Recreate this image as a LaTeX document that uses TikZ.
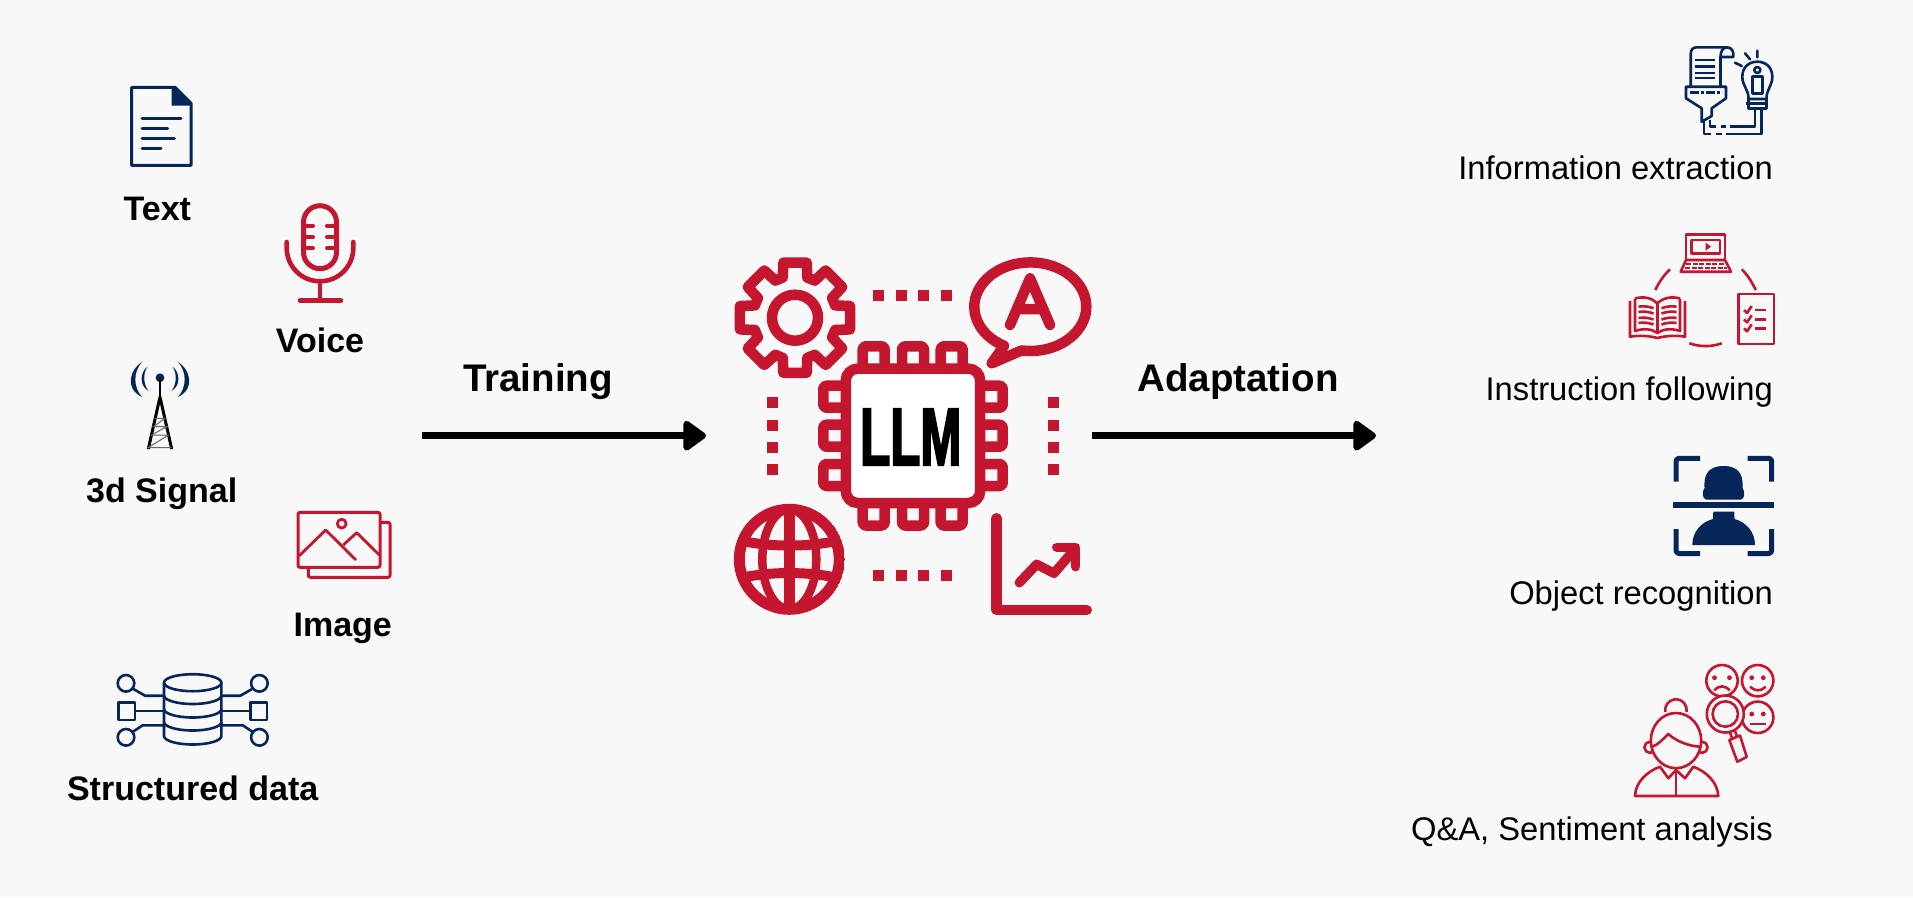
\documentclass[tikz,border=0pt]{standalone}
\usepackage{fontspec}
\setmainfont{Liberation Sans}
\newfontfamily\llmfont{Liberation Sans}[FakeStretch=0.6,FakeBold=2]
\usetikzlibrary{
  arrows.meta
}
\definecolor{pagebg}{HTML}{F8F8F8}
\definecolor{llmred}{HTML}{C4162E}
\definecolor{llmnavy}{HTML}{06265A}
\tikzset{
  inlabel/.style={anchor=base, inner sep=0pt, font=\fontsize{34}{40}\selectfont\bfseries},
  outlabel/.style={anchor=base east, inner sep=0pt, font=\fontsize{32.7}{40}\selectfont},
  stagelabel/.style={anchor=base, inner sep=0pt, font=\fontsize{38.5}{44}\selectfont\bfseries},
  stagearrow/.style={line width=7pt, -{Triangle[length=25pt,width=34pt,round]}},
  navyline/.style={draw=llmnavy, line width=2.6pt, line join=round},
  redline/.style={draw=llmred, line width=2.6pt, line join=round},
  redthick/.style={draw=llmred, line width=10.5pt, line join=round, line cap=round},
  redspot/.style={fill=llmred, minimum size=11pt, inner sep=0pt}
}
\begin{document}
\begin{tikzpicture}[x=1pt, y=1pt, yscale=-1]
  \fill[pagebg] (0,0) rectangle (1913,897);
  \useasboundingbox (0,0) rectangle (1913,897);

  % inputs
  \node[inlabel] (text) at (157.3,220) {Text};
  \node[inlabel] (voice) at (320,352.7) {Voice};
  \node[inlabel] (signal) at (161.7,502.7) {3d Signal};
  \node[inlabel] (image) at (342.7,636) {Image};
  \node[inlabel] (data) at (192.7,800) {Structured data};

  % text
  \draw[navyline, line width=3pt] (131.7,87.3) -- (175,87.3) -- (191,103.3) -- (191,165.3) -- (131.7,165.3) -- cycle;
  \fill[llmnavy] (171.7,87.3) -- (175,87.3) -- (191,103.3) -- (191,105.5) -- (171.7,105.5) -- cycle;
  \foreach \y/\e in {118.3/181, 128/167.7, 138/174.3, 148/161}
    \draw[navyline, line width=3pt, line cap=round] (142,\y) -- (\e,\y);

  % voice
  \draw[draw=llmred, line width=5pt, rounded corners=16.5pt] (303.5,205.7) rectangle (336.5,268.7);
  \foreach \y in {225.7,237,248.3} {
    \draw[draw=llmred, line width=4pt, line cap=round] (303.5,\y) -- (313,\y);
    \draw[draw=llmred, line width=4pt, line cap=round] (327,\y) -- (336.5,\y);
  }
  \draw[draw=llmred, line width=4.6pt, line cap=round] (286.7,242) -- (286.7,248) arc[start angle=180, end angle=0, radius=33.3] -- (353.3,242);
  \draw[draw=llmred, line width=4.6pt, line cap=round] (320,281.3) -- (320,300.7) (300,300.7) -- (341,300.7);

  % signal
  \foreach \m/\d in {1/0,-1/320} {
    \begin{scope}[xshift=\d pt, xscale=\m]
      \fill[llmnavy] (142.3,361.7) .. controls (130,369) and (124,389) .. (142.3,397) .. controls (133,388) and (133,371) .. cycle;
      \fill[llmnavy] (147.5,366.7) .. controls (141,371) and (138,385) .. (148.5,391) .. controls (143,384) and (143,373) .. cycle;
    \end{scope}
  }
  \fill[llmnavy] (160,377.7) circle (4.4);
  \draw[black, line width=1.6pt] (160,378) -- (160,397);
  \draw[black, line width=3pt, line join=round] (148.3,449) -- (160,397) -- (171.7,449);
  \draw[black!60, line width=1pt] (155.1,418.3) -- (164.9,418.3) -- (153.4,426.7) -- (166.6,426.7) -- (151.5,435) -- (168.5,435) -- (148.3,447.5) -- (171.7,447.5);

  % image
  \draw[redline, line width=3pt, rounded corners=2pt] (298,512.3) rectangle (380,567.3);
  \draw[redline, line width=3pt, rounded corners=2pt] (380,522.3) -- (390,522.3) -- (390,577.3) -- (308.3,577.3) -- (308.3,567.3);
  \draw[redline, line width=2.8pt] (341.7,523.7) circle (4.4);
  \draw[redline, line width=2.8pt] (299.3,555.7) -- (325.7,530) -- (356,560);
  \draw[redline, line width=2.8pt] (343.3,545) -- (356.7,532.7) -- (379.3,555);

  % structured data
  \draw[navyline] (192.7,682.7) ellipse (28.7 and 8.5);
  \draw[navyline] (164,682.7) -- (164,736) arc[start angle=180, end angle=0, x radius=28.7, y radius=8.5] -- (221.4,682.7);
  \foreach \y in {695.5,709,722}
    \draw[navyline] (164,\y) arc[start angle=180, end angle=0, x radius=28.7, y radius=8.5];
  \foreach \m/\d in {1/0,-1/385.4} {
    \begin{scope}[xshift=\d pt, xscale=\m]
      \draw[navyline] (126,683.3) circle (8.3);
      \draw[navyline] (118.3,702.3) rectangle (135,720);
      \draw[navyline] (126,737.3) circle (8.3);
      \draw[navyline] (132.5,688.5) -- (145,695.7) -- (164,695.7);
      \draw[navyline] (135,711) -- (164,711);
      \draw[navyline] (132.5,732) -- (142.7,725.3) -- (164,725.3);
    \end{scope}
  }

  % stages
  \node[stagelabel] (training) at (538,391.7) {Training};
  \node[stagelabel] (adaptation) at (1238,391.7) {Adaptation};
  \coordinate (trainfrom) at (422.3,435.7);
  \coordinate (trainto) at (706,435.7);
  \coordinate (adaptfrom) at (1092.3,435.7);
  \coordinate (adaptto) at (1376,435.7);
  \draw[stagearrow] (trainfrom) -- (trainto);
  \draw[stagearrow] (adaptfrom) -- (adaptto);

  % gear
  \begin{scope}[shift={(795,317.7)}]
    \draw[redthick] (-12:56.3) foreach \a in {0,45,...,315} { -- (\a-12:56.3) -- (\a+12:56.3) -- (\a+17:42) -- (\a+28:42) } -- cycle;
    \draw[redthick] (0,0) circle (23);
  \end{scope}

  % dots
  \foreach \x [count=\i] in {878.7,901.3,923.8,946.2} {
    \node[redspot] (dottop\i) at (\x,295.7) {};
    \node[redspot] (dotbot\i) at (\x,575.7) {};
  }
  \foreach \y [count=\i] in {402.3,425,447.3,469.3} {
    \node[redspot] (dotleft\i) at (772.7,\y) {};
    \node[redspot] (dotright\i) at (1053,\y) {};
  }

  % chip
  \foreach \p in {873.7,913,951.7} {
    \draw[redthick, line cap=butt, rounded corners=3pt] (\p-11,370) -- (\p-11,346.3) -- (\p+11,346.3) -- (\p+11,370);
    \draw[redthick, line cap=butt, rounded corners=3pt] (\p-11,501) -- (\p-11,525.5) -- (\p+11,525.5) -- (\p+11,501);
  }
  \foreach \p in {396.7,435.7,475} {
    \draw[redthick, line cap=butt, rounded corners=3pt] (847,\p-11) -- (823.3,\p-11) -- (823.3,\p+11) -- (847,\p+11);
    \draw[redthick, line cap=butt, rounded corners=3pt] (979,\p-11) -- (1002.7,\p-11) -- (1002.7,\p+11) -- (979,\p+11);
  }
  \node[draw=llmred, line width=10.5pt, fill=white, rounded corners=12pt, minimum size=134.4pt, inner sep=0pt] (chip) at (913,435.8) {};
  \node[font=\fontsize{82}{86}\selectfont\llmfont\bfseries, inner sep=0pt] (llm) at (910.8,437) {LLM};

  % speech bubble
  \begin{scope}[shift={(1030.3,306.7)}]
    \draw[redthick] (118:56 and 44.3) arc[start angle=118, end angle=459, x radius=56, y radius=44.3] -- (-38.6,56.6) -- cycle;
  \end{scope}
  \draw[redthick] (1010,325) -- (1030,278.3) -- (1050,325) (1017,309) -- (1043,309);

  % globe
  \begin{scope}[shift={(789.3,559.3)}]
    \clip (0,0) circle (55.5);
    \draw[draw=llmred, line width=11pt] (0,0) circle (50);
    \draw[draw=llmred, line width=8.5pt] (0,0) ellipse (27 and 50);
    \draw[draw=llmred, line width=11pt] (0,-50) -- (0,50);
    \draw[draw=llmred, line width=10pt] (-50,-19) .. controls (-20,-12) and (20,-12) .. (50,-19);
    \draw[draw=llmred, line width=10pt] (-50,19) .. controls (-20,12) and (20,12) .. (50,19);
  \end{scope}

  % chart
  \draw[redthick] (996.7,518.3) -- (996.7,610) -- (1086.7,610);
  \draw[redthick, line width=9.5pt] (1019.3,582.7) -- (1036.7,564.3) -- (1054,573.3) -- (1074,550);
  \draw[redthick, line width=9.5pt] (1056.7,547.3) -- (1075.7,547.3) -- (1075.7,566.7);

  % outputs
  \node[outlabel] (extraction) at (1773,179) {Information extraction};
  \node[outlabel] (following) at (1773,400) {Instruction following};
  \node[outlabel] (recognition) at (1773,604.3) {Object recognition};
  \node[outlabel] (sentiment) at (1773,840) {Q\&A, Sentiment analysis};

  % information extraction
  \draw[navyline] (1690.7,86.7) -- (1690.7,54) .. controls (1690.7,49.5) and (1693,47.3) .. (1697,47.3) -- (1727,47.3) .. controls (1732,47.3) and (1734,52) .. (1733.3,57) -- (1720.5,57) -- (1720.5,86.7);
  \draw[navyline] (1720.5,57) .. controls (1720.5,51) and (1723,47.5) .. (1727,47.3);
  \foreach \y in {60,66.7,73,78}
    \draw[navyline] (1695,\y) -- (1715,\y);
  \draw[navyline] (1686,86.7) -- (1726,86.7) -- (1726,98.3) -- (1711.7,108.3) -- (1711.7,116) -- (1701.7,121.7) -- (1701.7,108.3) -- (1686,98.3) -- cycle;
  \draw[navyline, dash pattern=on 9pt off 2pt on 3pt off 2pt] (1690,92.3) -- (1722,92.3);
  \draw[navyline] (1748.5,99) .. controls (1749,90) and (1742.3,86) .. (1742.3,76.7) .. controls (1742.3,67) and (1749,61.7) .. (1757.3,61.7) .. controls (1765.5,61.7) and (1772.3,67) .. (1772.3,76.7) .. controls (1772.3,86) and (1766,90) .. (1766.5,99) -- cycle;
  \draw[navyline] (1748.5,99) rectangle (1766.5,108.3);
  \draw[navyline] (1746,103.5) -- (1768,103.5);
  \draw[navyline] (1757.3,70) circle (3);
  \draw[navyline] (1752.3,76.7) rectangle (1762.3,93.3);
  \draw[navyline, line cap=round] (1757.3,50.7) -- (1757.3,57.3) (1745,53.3) -- (1750,59.3) (1735,62.7) -- (1741.7,66);
  \draw[navyline] (1755,108.3) -- (1755,126.7) -- (1730,126.7);
  \draw[navyline] (1726,126.7) -- (1721,126.7) (1716,126.7) -- (1710,126.7) -- (1710,120);
  \draw[navyline] (1761.7,108.3) -- (1761.7,134) -- (1726,134);
  \draw[navyline] (1722,134) -- (1716,134) (1711,134) -- (1704,134) -- (1704,120.5);

  % instruction following
  \draw[redline] (1686,260) rectangle (1725,234.3);
  \draw[redline] (1691.7,240) rectangle (1720,253.3);
  \fill[llmred] (1705.7,242.7) -- (1711,246.7) -- (1705.7,250.7) -- cycle;
  \draw[redline] (1686,260) -- (1725,260) -- (1731,271.7) -- (1680.7,271.7) -- cycle;
  \draw[redline, line width=2pt, dash pattern=on 5pt off 1.5pt] (1686,264) -- (1725,264) (1685,268) -- (1727,268);
  \draw[redline] (1670,269.3) .. controls (1664,275) and (1659,282) .. (1655.3,290);
  \draw[redline] (1741.7,269.3) .. controls (1747.5,275) and (1752,282) .. (1755.7,290);
  \draw[redline] (1689.3,343.3) .. controls (1700,347) and (1711,347) .. (1721.7,343.3);
  \draw[redline] (1635,298.5) .. controls (1644,296) and (1652,298) .. (1657.3,303.3) .. controls (1663,298) and (1671,296) .. (1680,298.5);
  \draw[redline] (1635,298.5) -- (1635,331) .. controls (1644,328) and (1652,329) .. (1657.3,333) .. controls (1663,329) and (1671,328) .. (1680,331) -- (1680,298.5);
  \draw[redline] (1630,301) -- (1630,336.7) .. controls (1640,335) and (1650,336) .. (1657.3,338) .. controls (1665,336) and (1675,335) .. (1685,336.7) -- (1685,301);
  \draw[redline] (1657.3,303.3) -- (1657.3,333);
  \foreach \y in {306.7,312,318,323} {
    \draw[redline] (1638.5,\y) .. controls (1644,\y-1) and (1649,\y) .. (1653.5,\y+1.5);
    \draw[redline] (1661.5,\y+1.5) .. controls (1666,\y) and (1671,\y-1) .. (1676.5,\y);
  }
  \draw[redline] (1738.3,294) rectangle (1774,344);
  \foreach \y in {310,319.3,328.3} {
    \draw[redline] (1744,\y) -- (1747,\y+3) -- (1751.7,\y-4);
    \draw[redline] (1755,\y) -- (1765.7,\y);
  }

  % object recognition
  \draw[navyline, line width=5pt, rounded corners=3pt] (1676,481.7) -- (1676,458.3) -- (1700,458.3);
  \draw[navyline, line width=5pt, rounded corners=3pt] (1747.7,458.3) -- (1771.7,458.3) -- (1771.7,481.7);
  \draw[navyline, line width=5pt, rounded corners=3pt] (1676,529) -- (1676,553.5) -- (1700,553.5);
  \draw[navyline, line width=5pt, rounded corners=3pt] (1747.7,553.5) -- (1771.7,553.5) -- (1771.7,529);
  \fill[llmnavy] (1673.3,502.3) rectangle (1774.3,508.3);
  \fill[llmnavy] (1704.5,488) .. controls (1703.5,475) and (1708,466) .. (1723.5,466) .. controls (1739,466) and (1743.5,475) .. (1742.5,488) .. controls (1745,491) and (1745,499) .. (1741,499.5) -- (1706,499.5) .. controls (1702,499) and (1702,491) .. (1704.5,488) -- cycle;
  \fill[llmnavy] (1713.3,511.5) -- (1734.3,511.5) -- (1734.5,519) .. controls (1746,522) and (1755,532) .. (1755,545) -- (1692.3,545) .. controls (1692.3,532) and (1701,522) .. (1713,519) -- cycle;

  % sentiment analysis
  \foreach \x/\y in {1722/680.7, 1757.7/680.7, 1757.7/717.3}
    \draw[redline] (\x,\y) circle (15.7);
  \foreach \x/\y in {1714.5/677.7, 1729.5/677.7, 1751.7/677.7, 1763.3/677.7, 1751.7/714, 1763.3/714}
    \fill[llmred] (\x,\y) circle (2.4);
  \draw[redline] (1714.3,690.5) .. controls (1719,685) and (1725,685) .. (1729.7,690.5);
  \draw[redline] (1750,686.7) .. controls (1755,691.5) and (1761,691.5) .. (1765.7,686.7);
  \draw[redline] (1750,724) -- (1765.7,724);
  \draw[redline, fill=pagebg] (1725.3,714) circle (18.5);
  \draw[redline] (1725.3,714) circle (12.7);
  \draw[redline] (1730,732.5) -- (1732,738) (1735,731) -- (1737,736.5);
  \draw[redline] (1729.3,740) -- (1740,735.5) -- (1746.7,757) -- (1737.3,761.7) -- cycle;
  \draw[redline] (1665.3,712) arc[start angle=170, end angle=370, radius=10.8];
  \draw[redline] (1650,747.3) circle (5.6);
  \draw[redline] (1702,747.3) circle (5.6);
  \draw[redline, fill=pagebg] (1676,740.6) ellipse (25.2 and 27.6);
  \draw[redline] (1652,746.7) .. controls (1658,745) and (1663,739) .. (1668.3,734) .. controls (1676,741) and (1688,746) .. (1700,746.7);
  \draw[redline] (1635,796) .. controls (1635.5,782) and (1647,771.5) .. (1660,766.7) -- (1668.3,778.3) -- (1676,770) -- (1685,778.3) -- (1693.3,766.7) .. controls (1706,771.5) and (1717.5,782) .. (1718.3,796) -- cycle;
  \draw[redline, line width=2.8pt] (1676,770) -- (1676,796);
\end{tikzpicture}
\end{document}
